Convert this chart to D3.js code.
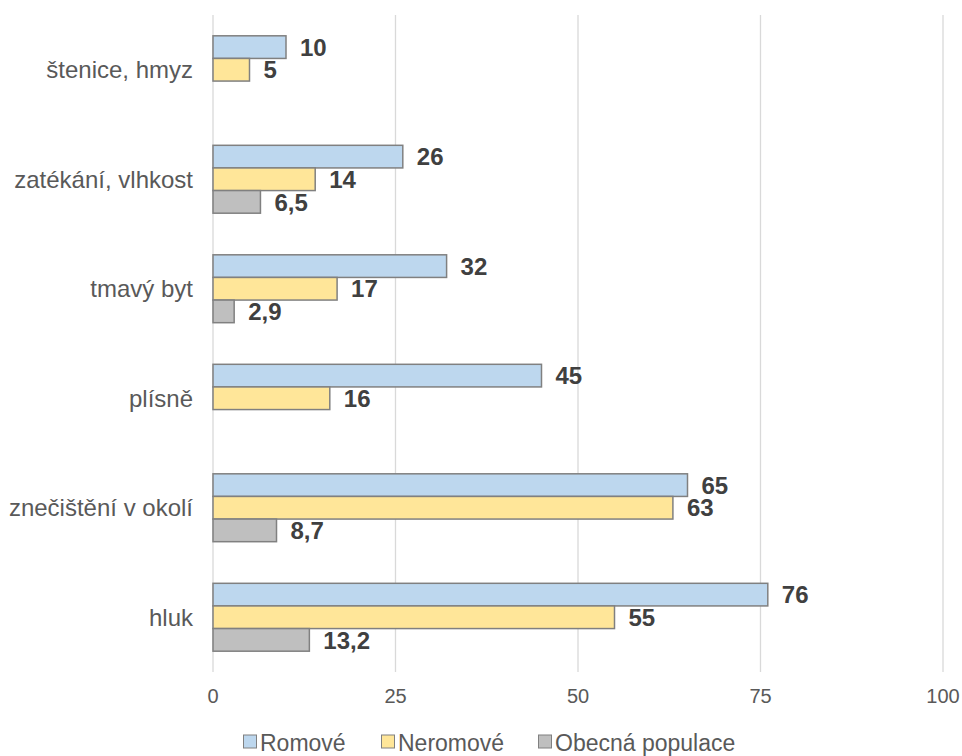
<!DOCTYPE html>
<html>
<head>
<meta charset="utf-8">
<script src="https://cdn.jsdelivr.net/npm/d3@7"></script>
<style>
  body { margin: 0; background: #fff; }
  text { font-family: "Liberation Sans", Arial, sans-serif; }
</style>
</head>
<body>
<div id="chart"></div>
<script>
var categories = ["štenice, hmyz", "zatékání, vlhkost", "tmavý byt", "plísně", "znečištění v okolí", "hluk"];
var seriesNames = ["Romové", "Neromové", "Obecná populace"];
var romove = [10, 26, 32, 45, 65, 76];
var neromove = [5, 14, 17, 16, 63, 55];
var obecna = [null, 6.5, 2.9, null, 8.7, 13.2];
var xTicks = [0, 25, 50, 75, 100];
var colors = ["#BDD7EE", "#FFE699", "#BFBFBF"];

var width = 962, height = 756,
    margin = { top: 15, right: 19, bottom: 84, left: 213 };

var svg = d3.select("#chart").append("svg")
    .attr("width", width)
    .attr("height", height);

var g = svg.append("g")
    .attr("transform", "translate(" + margin.left + "," + margin.top + ")");

var w = width - margin.left - margin.right,
    h = height - margin.top - margin.bottom;

var x = d3.scaleLinear().domain([0, 100]).range([0, w]);

var y = d3.scaleBand()
    .domain(categories)
    .range([0, h])
    .paddingInner(0.38)
    .paddingOuter(0.19);

var ySub = d3.scaleBand()
    .domain(seriesNames)
    .range([0, y.bandwidth()]);

// gridlines
g.selectAll(".grid")
    .data(xTicks)
    .enter().append("line")
    .attr("x1", d => x(d))
    .attr("x2", d => x(d))
    .attr("y1", 0)
    .attr("y2", h)
    .style("stroke", "#D9D9D9")
    .style("stroke-width", 1.3);

// tick labels
g.selectAll(".xlab")
    .data(xTicks)
    .enter().append("text")
    .attr("x", d => x(d))
    .attr("y", h + 31)
    .attr("text-anchor", "middle")
    .style("font-size", "20px")
    .style("fill", "#595959")
    .text(d => d);

// category labels
g.selectAll(".ylab")
    .data(categories)
    .enter().append("text")
    .attr("x", -20)
    .attr("y", d => y(d) + y.bandwidth() / 2)
    .attr("dy", "0.35em")
    .attr("text-anchor", "end")
    .style("font-size", "24px")
    .style("fill", "#595959")
    .text(d => d);

var rows = [];
var allSeries = [romove, neromove, obecna];
categories.forEach(function (c, i) {
    seriesNames.forEach(function (s, j) {
        if (allSeries[j][i] != null) {
            rows.push({ cat: c, series: s, idx: j, value: allSeries[j][i] });
        }
    });
});

// bars
g.selectAll(".bar")
    .data(rows)
    .enter().append("rect")
    .attr("x", 0)
    .attr("y", d => y(d.cat) + ySub(d.series))
    .attr("width", d => x(d.value))
    .attr("height", ySub.bandwidth())
    .attr("fill", d => colors[d.idx])
    .attr("stroke", "#808080")
    .attr("stroke-width", 1.5);

// value labels
g.selectAll(".val")
    .data(rows)
    .enter().append("text")
    .attr("x", d => x(d.value) + 14)
    .attr("y", d => y(d.cat) + ySub(d.series) + ySub.bandwidth() / 2)
    .attr("dy", "0.36em")
    .style("font-size", "24px")
    .style("font-weight", "bold")
    .style("fill", "#404040")
    .text(d => String(d.value).replace(".", ","));

// legend
var legendX = [243, 381, 538];
var legend = svg.selectAll(".legend")
    .data(seriesNames)
    .enter().append("g")
    .attr("transform", (d, i) => "translate(" + legendX[i] + "," + 751 + ")");

legend.append("rect")
    .attr("x", 0.5)
    .attr("y", -16)
    .attr("width", 13)
    .attr("height", 13)
    .attr("fill", (d, i) => colors[i])
    .attr("stroke", "#808080")
    .attr("stroke-width", 1);

legend.append("text")
    .attr("x", 17)
    .attr("y", 0)
    .style("font-size", "23px")
    .style("fill", "#595959")
    .text(d => d);
</script>
</body>
</html>
